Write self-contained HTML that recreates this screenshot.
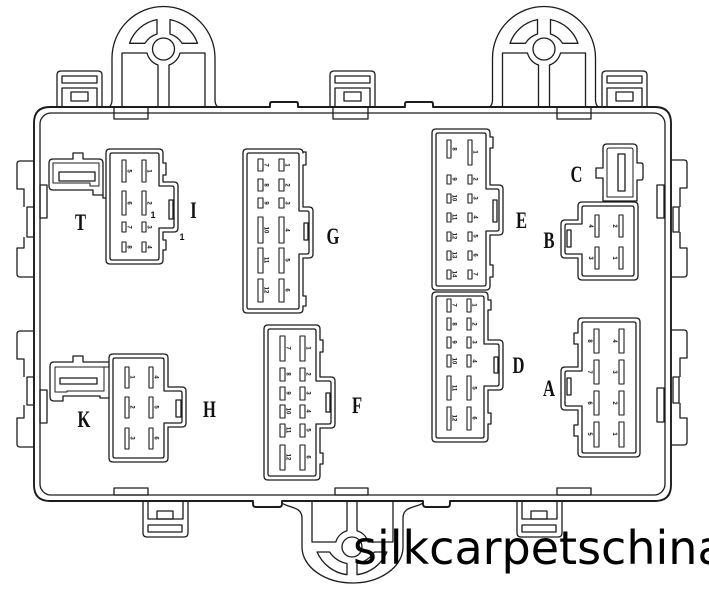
<!DOCTYPE html>
<html>
<head>
<meta charset="utf-8">
<style>
html,body{margin:0;padding:0;background:#fff;}
body{width:709px;height:597px;overflow:hidden;}
svg{display:block;}
.n{font-family:"Liberation Sans",sans-serif;font-weight:bold;font-size:6px;text-anchor:middle;fill:#111;stroke:none;}
.L{font-family:"Liberation Serif",serif;font-weight:bold;font-size:23px;text-anchor:middle;fill:#111;stroke:none;}
</style>
</head>
<body>
<svg width="709" height="597" viewBox="0 0 709 597" xmlns="http://www.w3.org/2000/svg">
<rect x="0" y="0" width="709" height="597" fill="#fff"/>
<g fill="none" stroke="#1c1c1c" stroke-width="1.3" stroke-linejoin="round">
<path stroke-width="1.9" d="M50,107 H270 V104 Q270,102 272,102 H296 Q298,102 298,104 V107 H405 V104 Q405,102 407,102 H431 Q433,102 433,104 V107 H655 Q671,107 671,123 V485 Q671,501 655,501 H450 V504 Q450,507 447,507 H426 Q423,507 423,504 V501 H282 V504 Q282,507 279,507 H256 Q253,507 253,504 V501 H50 Q34,501 34,485 V123 Q34,107 50,107 Z"/>
<rect x="40" y="113" width="625" height="382" rx="11"/>
<g>
<path d="M109,107 Q112,105 112,100 V58 A51.5,51.5 0 0 1 215,58 V100 Q215,105 218,107"/>
<path d="M129.5,43.3 A36,36 0 0 1 157,19.6 V34 A22,22 0 0 0 144.9,43.3 Z"/>
<path d="M197.5,43.3 A36,36 0 0 0 170,19.6 V34 A22,22 0 0 1 182.1,43.3 Z"/>
<circle cx="163.5" cy="49" r="11"/>
<path d="M122,107 V53 H147 A17,17 0 0 0 158,65 V107"/>
<path d="M205,107 V53 H180 A17,17 0 0 1 169,65 V107"/>
</g>
<g transform="translate(380.5,0)">
<path d="M109,107 Q112,105 112,100 V58 A51.5,51.5 0 0 1 215,58 V100 Q215,105 218,107"/>
<path d="M129.5,43.3 A36,36 0 0 1 157,19.6 V34 A22,22 0 0 0 144.9,43.3 Z"/>
<path d="M197.5,43.3 A36,36 0 0 0 170,19.6 V34 A22,22 0 0 1 182.1,43.3 Z"/>
<circle cx="163.5" cy="49" r="11"/>
<path d="M122,107 V53 H147 A17,17 0 0 0 158,65 V107"/>
<path d="M205,107 V53 H180 A17,17 0 0 1 169,65 V107"/>
</g>
<path d="M282,503 C288,508 302,506 302,518 V547 A50.5,36 0 0 0 403,547 V518 C403,506 416,508 423,503"/>
<path d="M312,501 V542 H335.8 A17,17 0 0 1 347,530.8 V501"/>
<path d="M393,501 V542 H368.2 A17,17 0 0 0 357,530.8 V501"/>
<circle cx="352" cy="547" r="10"/>
<path d="M317.1,552 A38,38 0 0 0 347,574.7 V563.5 A27,27 0 0 1 329.6,552 Z"/>
<path d="M386.9,552 A38,38 0 0 1 357,574.7 V563.5 A27,27 0 0 0 374.4,552 Z"/>
<g>
<path d="M57,107 V75 Q57,71 61,71 H98 Q102,71 102,75 V107"/>
<rect x="62" y="76" width="35" height="7"/>
<path d="M62,107 V88 H97 V107"/>
<rect x="71" y="92" width="17" height="9"/>
</g>
<g transform="translate(273,0)">
<path d="M57,107 V75 Q57,71 61,71 H98 Q102,71 102,75 V107"/>
<rect x="62" y="76" width="35" height="7"/>
<path d="M62,107 V88 H97 V107"/>
<rect x="71" y="92" width="17" height="9"/>
</g>
<g transform="translate(545,0)">
<path d="M57,107 V75 Q57,71 61,71 H98 Q102,71 102,75 V107"/>
<rect x="62" y="76" width="35" height="7"/>
<path d="M62,107 V88 H97 V107"/>
<rect x="71" y="92" width="17" height="9"/>
</g>
<rect x="114" y="107" width="34" height="12"/>
<rect x="333" y="107" width="35" height="12"/>
<rect x="557" y="107" width="34" height="12"/>
<rect x="114" y="488" width="34" height="7"/>
<rect x="335" y="488" width="33" height="7"/>
<rect x="557" y="488" width="34" height="7"/>
<g>
<path d="M143,501 V533 Q143,537 147,537 H184 Q188,537 188,533 V501"/>
<rect x="148" y="525" width="34" height="7"/>
<path d="M148,501 V519 H183 V501"/>
<rect x="157" y="511" width="16" height="8"/>
</g>
<g transform="translate(374,0)">
<path d="M143,501 V533 Q143,537 147,537 H184 Q188,537 188,533 V501"/>
<rect x="148" y="525" width="34" height="7"/>
<path d="M148,501 V519 H183 V501"/>
<rect x="157" y="511" width="16" height="8"/>
</g>
<g>
<path d="M34,161 H20 Q17,161 17,164 V189 H24 V207"/>
<rect x="27" y="207" width="7" height="30"/>
<path d="M24,237 V248 H17 V274 Q17,277 20,277 H34"/>
<rect x="40" y="185" width="7" height="33"/>
</g>
<g transform="translate(0,170)">
<path d="M34,161 H20 Q17,161 17,164 V189 H24 V207"/>
<rect x="27" y="207" width="7" height="28"/>
<path d="M24,235 V248 H17 V274 Q17,277 20,277 H34"/>
<rect x="40" y="220" width="7" height="33"/>
</g>
<g>
<path d="M671,160 H684 Q687,160 687,163 V188 H680 V207"/>
<rect x="673" y="207" width="6" height="25"/>
<path d="M680,232 V248 H687 V274 Q687,277 684,277 H671"/>
<rect x="657" y="185" width="7" height="33"/>
</g>
<g transform="translate(0,170)">
<path d="M671,160 H684 Q687,160 687,163 V188 H680 V207"/>
<rect x="673" y="207" width="6" height="26"/>
<path d="M680,233 V248 H687 V272 Q687,275 684,275 H671"/>
<rect x="657" y="218" width="7" height="34"/>
</g>
<path d="M49,163 Q49,159 53,159 H73 V153 H83 V159 H99 Q103,159 103,163 V195 H93 V190 H53 Q49,190 49,186 Z"/>
<path d="M103,195 V198 H106"/>
<path d="M53,163 H99 V186 H90 V183 H53 Z" stroke-width="1"/>
<rect x="59" y="172" width="36" height="9"/>
<path d="M109,362 H83 V356 H73 V362 H54 Q50,362 50,366 V397 Q50,401 54,401 H63 V396 H100 V398 H109"/>
<path d="M109,367 H55 V392 H67 V391 H104 V367" stroke-width="1"/>
<rect x="60" y="378" width="37" height="6"/>
<path d="M110,149 H159 Q163,149 163,153 V163 H166 V175 H163 V182 H174 Q178,182 178,186 V228 Q178,232 174,232 H163 V240 H166 V250 H163 V260 Q163,264 159,264 H110 Q106,264 106,260 V153 Q106,149 110,149 Z"/>
<path d="M112,153 H157 Q159,153 159,155 V186 H172 Q174,186 174,188 V226 Q174,228 172,228 H159 V258 Q159,260 157,260 H112 Q110,260 110,258 V155 Q110,153 112,153 Z"/>
<rect x="169" y="200" width="4" height="19"/>
<path d="M247,149 H299 Q303,149 303,153 V152 H306 V165 H303 V207 H309 Q313,207 313,211 V254 Q313,258 309,258 H303 V296 H306 V306 H303 V309 Q303,313 299,313 H247 Q243,313 243,309 V153 Q243,149 247,149 Z"/>
<path d="M249,153 H297 Q299,153 299,155 V211 H307 Q309,211 309,213 V252 Q309,254 307,254 H299 V307 Q299,309 297,309 H249 Q247,309 247,307 V155 Q247,153 249,153 Z"/>
<rect x="304" y="223" width="4" height="17"/>
<path d="M268,325 H316 Q320,325 320,329 V340 H323 V352 H320 V377 H331 Q335,377 335,381 V424 Q335,428 331,428 H320 V453 H323 V464 H320 V476 Q320,480 316,480 H268 Q264,480 264,476 V329 Q264,325 268,325 Z"/>
<path d="M270,329 H314 Q316,329 316,331 V381 H329 Q331,381 331,383 V422 Q331,424 329,424 H316 V474 Q316,476 314,476 H270 Q268,476 268,474 V331 Q268,329 270,329 Z"/>
<rect x="326" y="393" width="4" height="19"/>
<path d="M436,129 H486 Q490,129 490,133 V137 H493 V148 H490 V185 H499 Q503,185 503,189 V231 Q503,235 499,235 H490 V265 H493 V277 H490 V286 Q490,290 486,290 H436 Q432,290 432,286 V133 Q432,129 436,129 Z"/>
<path d="M438,133 H484 Q486,133 486,135 V189 H497 Q499,189 499,191 V229 Q499,231 497,231 H486 V284 Q486,286 484,286 H438 Q436,286 436,284 V135 Q436,133 438,133 Z"/>
<rect x="493" y="200" width="4" height="22"/>
<path d="M436,292 H484 Q488,292 488,296 V300 H491 V310 H488 V340 H499 Q503,340 503,344 V386 Q503,390 499,390 H488 V413 H491 V424 H488 V438 Q488,442 484,442 H436 Q432,442 432,438 V296 Q432,292 436,292 Z"/>
<path d="M438,296 H482 Q484,296 484,298 V344 H497 Q499,344 499,346 V384 Q499,386 497,386 H484 V436 Q484,438 482,438 H438 Q436,438 436,436 V298 Q436,296 438,296 Z"/>
<rect x="494" y="357" width="4" height="16"/>
<path d="M113,354 H164 Q168,354 168,358 V387 H182 Q186,387 186,391 V423 Q186,427 182,427 H168 V458 Q168,462 164,462 H113 Q109,462 109,458 V358 Q109,354 113,354 Z"/>
<path d="M115,358 H162 Q164,358 164,360 V391 H180 Q182,391 182,393 V421 Q182,423 180,423 H164 V456 Q164,458 162,458 H115 Q113,458 113,456 V360 Q113,358 115,358 Z"/>
<rect x="176" y="400" width="5" height="17"/>
<path d="M582,318 H636 Q640,318 640,322 V453 Q640,457 636,457 H582 Q578,457 578,453 V436 H574 V425 H578 V410 H565 Q561,410 561,406 V371 Q561,367 565,367 H578 V344 H574 V333 H578 V322 Q578,318 582,318 Z"/>
<path d="M584,322 H634 Q636,322 636,324 V451 Q636,453 634,453 H584 Q582,453 582,451 V406 H567 Q565,406 565,404 V373 Q565,371 567,371 H582 V324 Q582,322 584,322 Z"/>
<rect x="567" y="378" width="4" height="17"/>
<path d="M582,202 H634 Q638,202 638,206 V276 Q638,280 634,280 H582 Q578,280 578,276 V258 H565 Q561,258 561,254 V224 Q561,220 565,220 H578 V206 Q578,202 582,202 Z"/>
<path d="M584,206 H632 Q634,206 634,208 V274 Q634,276 632,276 H584 Q582,276 582,274 V254 H567 Q565,254 565,252 V226 Q565,224 567,224 H582 V208 Q582,206 584,206 Z"/>
<rect x="567" y="230" width="4" height="17"/>
<path d="M607,144 H633 Q637,144 637,148 V163 H641 Q643,163 643,165 V178 Q643,180 641,180 H637 V201 H603 V178 H596 V168 H603 V148 Q603,144 607,144 Z"/>
<path d="M609,148 H631 Q633,148 633,150 V197 H607 V150 Q607,148 609,148 Z" stroke-width="1"/>
<rect x="618" y="154" width="7" height="37"/>
<g stroke-width="1.1">
<rect x="122" y="160" width="4" height="22"/><rect x="142" y="160" width="4" height="22"/>
<rect x="122" y="191" width="4" height="24"/><rect x="142" y="191" width="4" height="24"/>
<rect x="122" y="222" width="4" height="10"/><rect x="142" y="222" width="4" height="10"/>
<rect x="122" y="242" width="4" height="10"/><rect x="142" y="242" width="4" height="10"/>
<rect x="258" y="159" width="5" height="12"/><rect x="279" y="159" width="5" height="12"/>
<rect x="258" y="179" width="5" height="12"/><rect x="279" y="179" width="5" height="12"/>
<rect x="258" y="198" width="5" height="10"/><rect x="279" y="198" width="5" height="10"/>
<rect x="258" y="217" width="5" height="26"/><rect x="279" y="217" width="5" height="26"/>
<rect x="258" y="248" width="5" height="25"/><rect x="279" y="248" width="5" height="25"/>
<rect x="258" y="279" width="5" height="23"/><rect x="279" y="279" width="5" height="23"/>
<rect x="280" y="336" width="5" height="25"/><rect x="300" y="336" width="5" height="25"/>
<rect x="280" y="368" width="5" height="13"/><rect x="300" y="368" width="5" height="13"/>
<rect x="280" y="387" width="5" height="13"/><rect x="300" y="387" width="5" height="13"/>
<rect x="280" y="405" width="5" height="13"/><rect x="300" y="405" width="5" height="13"/>
<rect x="280" y="424" width="5" height="13"/><rect x="300" y="424" width="5" height="13"/>
<rect x="280" y="445" width="5" height="25"/><rect x="300" y="445" width="5" height="25"/>
<rect x="447" y="140" width="4" height="18"/><rect x="468" y="140" width="4" height="25"/>
<rect x="447" y="175" width="4" height="9"/><rect x="468" y="175" width="4" height="9"/>
<rect x="447" y="194" width="4" height="9"/><rect x="468" y="194" width="4" height="9"/>
<rect x="447" y="213" width="4" height="9"/><rect x="468" y="213" width="4" height="9"/>
<rect x="447" y="232" width="4" height="9"/><rect x="468" y="232" width="4" height="9"/>
<rect x="447" y="251" width="4" height="9"/><rect x="468" y="251" width="4" height="9"/>
<rect x="447" y="270" width="4" height="9"/><rect x="468" y="270" width="4" height="9"/>
<rect x="447" y="299" width="4" height="13"/><rect x="467" y="299" width="4" height="13"/>
<rect x="447" y="318" width="4" height="12"/><rect x="467" y="318" width="4" height="12"/>
<rect x="447" y="337" width="4" height="11"/><rect x="467" y="337" width="4" height="11"/>
<rect x="447" y="355" width="4" height="12"/><rect x="467" y="355" width="4" height="12"/>
<rect x="447" y="376" width="4" height="24"/><rect x="467" y="376" width="4" height="24"/>
<rect x="447" y="407" width="4" height="23"/><rect x="467" y="407" width="4" height="23"/>
<rect x="125" y="367" width="4" height="21"/><rect x="149" y="367" width="4" height="21"/>
<rect x="125" y="397" width="4" height="21"/><rect x="149" y="397" width="4" height="21"/>
<rect x="125" y="428" width="4" height="21"/><rect x="149" y="428" width="4" height="21"/>
<rect x="594" y="329" width="5" height="24"/><rect x="619" y="329" width="5" height="24"/>
<rect x="594" y="360" width="5" height="24"/><rect x="619" y="360" width="5" height="24"/>
<rect x="594" y="391" width="5" height="24"/><rect x="619" y="391" width="5" height="24"/>
<rect x="594" y="422" width="5" height="25"/><rect x="619" y="422" width="5" height="25"/>
<rect x="595" y="215" width="4" height="22"/><rect x="619" y="215" width="4" height="22"/>
<rect x="595" y="247" width="4" height="22"/><rect x="619" y="247" width="4" height="22"/>
</g>
</g>
<g>
<text class="n" transform="translate(127.5,171) rotate(90)">5</text>
<text class="n" transform="translate(147.5,171) rotate(90)">1</text>
<text class="n" transform="translate(127.5,203) rotate(90)">6</text>
<text class="n" transform="translate(147.5,203) rotate(90)">2</text>
<text class="n" transform="translate(127.5,227) rotate(90)">7</text>
<text class="n" transform="translate(147.5,227) rotate(90)">3</text>
<text class="n" transform="translate(127.5,247) rotate(90)">8</text>
<text class="n" transform="translate(147.5,247) rotate(90)">4</text>
<text class="n" transform="translate(264.5,165) rotate(90)">7</text>
<text class="n" transform="translate(285.5,165) rotate(90)">1</text>
<text class="n" transform="translate(264.5,185) rotate(90)">8</text>
<text class="n" transform="translate(285.5,185) rotate(90)">2</text>
<text class="n" transform="translate(264.5,203) rotate(90)">9</text>
<text class="n" transform="translate(285.5,203) rotate(90)">3</text>
<text class="n" transform="translate(264.5,230) rotate(90)">10</text>
<text class="n" transform="translate(285.5,230) rotate(90)">4</text>
<text class="n" transform="translate(264.5,260) rotate(90)">11</text>
<text class="n" transform="translate(285.5,260) rotate(90)">5</text>
<text class="n" transform="translate(264.5,290) rotate(90)">12</text>
<text class="n" transform="translate(285.5,290) rotate(90)">6</text>
<text class="n" transform="translate(286.5,348) rotate(90)">7</text>
<text class="n" transform="translate(306.5,348) rotate(90)">1</text>
<text class="n" transform="translate(286.5,374) rotate(90)">8</text>
<text class="n" transform="translate(306.5,374) rotate(90)">2</text>
<text class="n" transform="translate(286.5,393) rotate(90)">9</text>
<text class="n" transform="translate(306.5,393) rotate(90)">3</text>
<text class="n" transform="translate(286.5,411) rotate(90)">10</text>
<text class="n" transform="translate(306.5,411) rotate(90)">4</text>
<text class="n" transform="translate(286.5,430) rotate(90)">11</text>
<text class="n" transform="translate(306.5,430) rotate(90)">5</text>
<text class="n" transform="translate(286.5,457) rotate(90)">12</text>
<text class="n" transform="translate(306.5,457) rotate(90)">6</text>
<text class="n" transform="translate(452.5,149) rotate(90)">8</text>
<text class="n" transform="translate(473.5,152) rotate(90)">1</text>
<text class="n" transform="translate(452.5,179) rotate(90)">9</text>
<text class="n" transform="translate(473.5,179) rotate(90)">2</text>
<text class="n" transform="translate(452.5,198) rotate(90)">10</text>
<text class="n" transform="translate(473.5,198) rotate(90)">3</text>
<text class="n" transform="translate(452.5,217) rotate(90)">11</text>
<text class="n" transform="translate(473.5,217) rotate(90)">4</text>
<text class="n" transform="translate(452.5,236) rotate(90)">12</text>
<text class="n" transform="translate(473.5,236) rotate(90)">5</text>
<text class="n" transform="translate(452.5,255) rotate(90)">13</text>
<text class="n" transform="translate(473.5,255) rotate(90)">6</text>
<text class="n" transform="translate(452.5,274) rotate(90)">14</text>
<text class="n" transform="translate(473.5,274) rotate(90)">7</text>
<text class="n" transform="translate(452.5,305) rotate(90)">7</text>
<text class="n" transform="translate(472.5,305) rotate(90)">1</text>
<text class="n" transform="translate(452.5,324) rotate(90)">8</text>
<text class="n" transform="translate(472.5,324) rotate(90)">2</text>
<text class="n" transform="translate(452.5,342) rotate(90)">9</text>
<text class="n" transform="translate(472.5,342) rotate(90)">3</text>
<text class="n" transform="translate(452.5,361) rotate(90)">10</text>
<text class="n" transform="translate(472.5,361) rotate(90)">4</text>
<text class="n" transform="translate(452.5,388) rotate(90)">11</text>
<text class="n" transform="translate(472.5,388) rotate(90)">5</text>
<text class="n" transform="translate(452.5,418) rotate(90)">12</text>
<text class="n" transform="translate(472.5,418) rotate(90)">6</text>
<text class="n" transform="translate(130.5,377) rotate(90)">1</text>
<text class="n" transform="translate(154.5,377) rotate(90)">4</text>
<text class="n" transform="translate(130.5,407) rotate(90)">2</text>
<text class="n" transform="translate(154.5,407) rotate(90)">5</text>
<text class="n" transform="translate(130.5,438) rotate(90)">3</text>
<text class="n" transform="translate(154.5,438) rotate(90)">6</text>
<text class="n" transform="translate(588,341) rotate(90)">8</text>
<text class="n" transform="translate(613,341) rotate(90)">4</text>
<text class="n" transform="translate(588,372) rotate(90)">7</text>
<text class="n" transform="translate(613,372) rotate(90)">3</text>
<text class="n" transform="translate(588,403) rotate(90)">6</text>
<text class="n" transform="translate(613,403) rotate(90)">2</text>
<text class="n" transform="translate(588,434) rotate(90)">5</text>
<text class="n" transform="translate(613,434) rotate(90)">1</text>
<text class="n" transform="translate(589,226) rotate(90)">4</text>
<text class="n" transform="translate(613,226) rotate(90)">2</text>
<text class="n" transform="translate(589,258) rotate(90)">3</text>
<text class="n" transform="translate(613,258) rotate(90)">1</text>
</g>
<text x="153" y="218" font-family="Liberation Sans, sans-serif" font-weight="bold" font-size="9" text-anchor="middle" fill="#111">1</text>
<text x="182" y="240" font-family="Liberation Sans, sans-serif" font-weight="bold" font-size="9" text-anchor="middle" fill="#111">1</text>
<text class="L" transform="translate(80.5,230) scale(0.72,1)">T</text>
<text class="L" transform="translate(193.5,218) scale(0.72,1)">I</text>
<text class="L" transform="translate(333,244) scale(0.72,1)">G</text>
<text class="L" transform="translate(521.5,228) scale(0.72,1)">E</text>
<text class="L" transform="translate(576.5,182) scale(0.72,1)">C</text>
<text class="L" transform="translate(549,248) scale(0.72,1)">B</text>
<text class="L" transform="translate(518.5,373) scale(0.72,1)">D</text>
<text class="L" transform="translate(549,396) scale(0.72,1)">A</text>
<text class="L" transform="translate(357,413) scale(0.72,1)">F</text>
<text class="L" transform="translate(209.5,417) scale(0.72,1)">H</text>
<text class="L" transform="translate(84,427) scale(0.72,1)">K</text>
<text x="353" y="564" font-family="DejaVu Sans, sans-serif" font-size="46" fill="#000">silkcarpetschina</text>
</svg>
</body>
</html>
